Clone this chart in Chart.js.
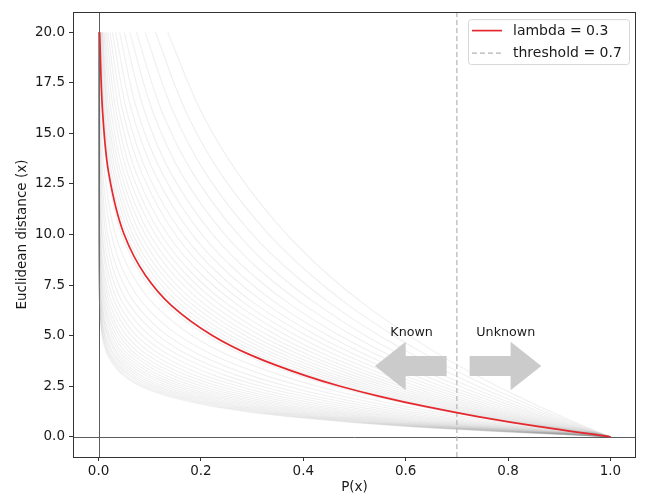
<!DOCTYPE html>
<html>
<head>
<meta charset="utf-8">
<script src="https://cdn.jsdelivr.net/npm/chart.js@4.4.0/dist/chart.umd.min.js"></script>
<style>
  body { margin: 0; background: #fff; }
  #chart { display: block; }
</style>
</head>
<body>
<canvas id="chart" width="645" height="499"></canvas>
<script>
// distances shared by every curve (y axis)
const distance = [20, 16, 13, 10, 8, 6.5, 5, 4, 3, 2.5, 2, 1.5, 1, 0.5, 0];

// highlighted curve, lambda = 0.3
const redLambda = 0.3;
const redCurve = [0.002, 0.008, 0.020, 0.050, 0.091, 0.142, 0.223, 0.301, 0.407, 0.472, 0.549, 0.638, 0.741, 0.861, 1];

// background family of curves (lambda 0.10 ... 1.00), P(x) at each distance
const grayCurves = [
  [0.135, 0.202, 0.273, 0.368, 0.449, 0.522, 0.607, 0.670, 0.741, 0.779, 0.819, 0.861, 0.905, 0.951, 1],
  [0.111, 0.172, 0.239, 0.333, 0.415, 0.489, 0.577, 0.644, 0.719, 0.760, 0.803, 0.848, 0.896, 0.946, 1],
  [0.091, 0.147, 0.210, 0.301, 0.383, 0.458, 0.549, 0.619, 0.698, 0.741, 0.787, 0.835, 0.887, 0.942, 1],
  [0.074, 0.125, 0.185, 0.273, 0.353, 0.430, 0.522, 0.595, 0.677, 0.723, 0.771, 0.823, 0.878, 0.937, 1],
  [0.061, 0.107, 0.162, 0.247, 0.326, 0.403, 0.497, 0.571, 0.657, 0.705, 0.756, 0.811, 0.869, 0.932, 1],
  [0.050, 0.091, 0.142, 0.223, 0.301, 0.377, 0.472, 0.549, 0.638, 0.687, 0.741, 0.799, 0.861, 0.928, 1],
  [0.041, 0.077, 0.125, 0.202, 0.278, 0.353, 0.449, 0.527, 0.619, 0.670, 0.726, 0.787, 0.852, 0.923, 1],
  [0.033, 0.066, 0.110, 0.183, 0.257, 0.331, 0.427, 0.507, 0.600, 0.654, 0.712, 0.775, 0.844, 0.919, 1],
  [0.027, 0.056, 0.096, 0.165, 0.237, 0.310, 0.407, 0.487, 0.583, 0.638, 0.698, 0.763, 0.835, 0.914, 1],
  [0.022, 0.048, 0.085, 0.150, 0.219, 0.291, 0.387, 0.468, 0.566, 0.622, 0.684, 0.752, 0.827, 0.909, 1],
  [0.018, 0.041, 0.074, 0.135, 0.202, 0.273, 0.368, 0.449, 0.549, 0.607, 0.670, 0.741, 0.819, 0.905, 1],
  [0.015, 0.035, 0.065, 0.122, 0.186, 0.255, 0.350, 0.432, 0.533, 0.592, 0.657, 0.730, 0.811, 0.900, 1],
  [0.012, 0.030, 0.057, 0.111, 0.172, 0.239, 0.333, 0.415, 0.517, 0.577, 0.644, 0.719, 0.803, 0.896, 1],
  [0.010, 0.025, 0.050, 0.100, 0.159, 0.224, 0.317, 0.399, 0.502, 0.563, 0.631, 0.708, 0.795, 0.891, 1],
  [0.008, 0.021, 0.044, 0.091, 0.147, 0.210, 0.301, 0.383, 0.487, 0.549, 0.619, 0.698, 0.787, 0.887, 1],
  [0.007, 0.018, 0.039, 0.082, 0.135, 0.197, 0.287, 0.368, 0.472, 0.535, 0.607, 0.687, 0.779, 0.882, 1],
  [0.006, 0.016, 0.034, 0.074, 0.125, 0.185, 0.273, 0.353, 0.458, 0.522, 0.595, 0.677, 0.771, 0.878, 1],
  [0.005, 0.013, 0.030, 0.067, 0.115, 0.173, 0.259, 0.340, 0.445, 0.509, 0.583, 0.667, 0.763, 0.874, 1],
  [0.004, 0.011, 0.026, 0.061, 0.107, 0.162, 0.247, 0.326, 0.432, 0.497, 0.571, 0.657, 0.756, 0.869, 1],
  [0.003, 0.010, 0.023, 0.055, 0.098, 0.152, 0.235, 0.314, 0.419, 0.484, 0.560, 0.647, 0.748, 0.865, 1],
  [0.002, 0.007, 0.018, 0.045, 0.084, 0.133, 0.212, 0.289, 0.395, 0.461, 0.538, 0.628, 0.733, 0.856, 1],
  [0.001, 0.004, 0.012, 0.033, 0.066, 0.110, 0.183, 0.257, 0.361, 0.427, 0.507, 0.600, 0.712, 0.844, 1],
  [0.001, 0.003, 0.008, 0.025, 0.052, 0.090, 0.157, 0.228, 0.330, 0.397, 0.477, 0.574, 0.691, 0.831, 1],
  [0.000, 0.002, 0.006, 0.018, 0.041, 0.074, 0.135, 0.202, 0.301, 0.368, 0.449, 0.549, 0.670, 0.819, 1],
  [0.000, 0.001, 0.004, 0.014, 0.032, 0.061, 0.117, 0.179, 0.275, 0.341, 0.423, 0.525, 0.651, 0.807, 1],
  [0.000, 0.001, 0.003, 0.010, 0.025, 0.050, 0.100, 0.159, 0.252, 0.317, 0.399, 0.502, 0.631, 0.795, 1],
  [0.000, 0.000, 0.002, 0.007, 0.020, 0.041, 0.086, 0.141, 0.230, 0.294, 0.375, 0.480, 0.613, 0.783, 1],
  [0.000, 0.000, 0.001, 0.006, 0.016, 0.034, 0.074, 0.125, 0.210, 0.273, 0.353, 0.458, 0.595, 0.771, 1],
  [0.000, 0.000, 0.001, 0.004, 0.012, 0.028, 0.064, 0.111, 0.192, 0.253, 0.333, 0.438, 0.577, 0.760, 1],
  [0.000, 0.000, 0.001, 0.003, 0.010, 0.023, 0.055, 0.098, 0.176, 0.235, 0.314, 0.419, 0.560, 0.748, 1],
  [0.000, 0.000, 0.000, 0.002, 0.008, 0.019, 0.047, 0.087, 0.160, 0.218, 0.295, 0.401, 0.543, 0.737, 1],
  [0.000, 0.000, 0.000, 0.002, 0.006, 0.016, 0.041, 0.077, 0.147, 0.202, 0.278, 0.383, 0.527, 0.726, 1],
  [0.000, 0.000, 0.000, 0.001, 0.005, 0.013, 0.035, 0.069, 0.134, 0.187, 0.262, 0.366, 0.512, 0.715, 1],
  [0.000, 0.000, 0.000, 0.001, 0.004, 0.011, 0.030, 0.061, 0.122, 0.174, 0.247, 0.350, 0.497, 0.705, 1],
  [0.000, 0.000, 0.000, 0.001, 0.003, 0.009, 0.026, 0.054, 0.112, 0.161, 0.232, 0.335, 0.482, 0.694, 1],
  [0.000, 0.000, 0.000, 0.001, 0.002, 0.007, 0.022, 0.048, 0.102, 0.150, 0.219, 0.320, 0.468, 0.684, 1],
  [0.000, 0.000, 0.000, 0.000, 0.002, 0.006, 0.019, 0.042, 0.094, 0.139, 0.206, 0.306, 0.454, 0.674, 1],
  [0.000, 0.000, 0.000, 0.000, 0.001, 0.005, 0.017, 0.038, 0.085, 0.129, 0.194, 0.292, 0.440, 0.664, 1],
  [0.000, 0.000, 0.000, 0.000, 0.001, 0.004, 0.014, 0.033, 0.078, 0.119, 0.183, 0.279, 0.427, 0.654, 1],
  [0.000, 0.000, 0.000, 0.000, 0.001, 0.003, 0.012, 0.030, 0.071, 0.111, 0.172, 0.267, 0.415, 0.644, 1],
  [0.000, 0.000, 0.000, 0.000, 0.001, 0.003, 0.011, 0.026, 0.065, 0.103, 0.162, 0.255, 0.403, 0.634, 1],
  [0.000, 0.000, 0.000, 0.000, 0.001, 0.002, 0.009, 0.023, 0.060, 0.095, 0.153, 0.244, 0.391, 0.625, 1],
  [0.000, 0.000, 0.000, 0.000, 0.000, 0.002, 0.008, 0.021, 0.054, 0.088, 0.144, 0.233, 0.379, 0.616, 1],
  [0.000, 0.000, 0.000, 0.000, 0.000, 0.002, 0.007, 0.018, 0.050, 0.082, 0.135, 0.223, 0.368, 0.607, 1]
];

const threshold = 0.7;
const xTicks = [0, 0.2, 0.4, 0.6, 0.8, 1.0];
const yTicks = [0, 2.5, 5, 7.5, 10, 12.5, 15, 17.5, 20];
const xRange = [-0.05, 1.05];
const yRange = [-1, 21];

// annotation arrows: label, start, length (data units)
const arrowLabels = ["Known", "Unknown"];
const arrowStart = [0.68, 0.725];
const arrowDx = [-0.08, 0.08];
const arrowY = 3.5;
const labelX = [0.57, 0.738];
const labelY = 5;

const FONT = "'DejaVu Sans', sans-serif";

const toPoints = curve => curve.map((p, i) => ({ x: p, y: distance[i] }));

const datasets = [
  {
    label: "lambda = " + redLambda,
    data: toPoints(redCurve),
    borderColor: "#e4282d",
    borderWidth: 1.7,
    order: 0
  },
  {
    label: "threshold = " + threshold,
    data: [{ x: threshold, y: yRange[0] }, { x: threshold, y: yRange[1] }],
    borderColor: "#b4b4b4",
    borderWidth: 1.2,
    borderDash: [5, 3],
    order: 1
  }
];
grayCurves.forEach(curve => {
  datasets.push({
    label: "",
    data: toPoints(curve),
    borderColor: "rgba(140,140,140,0.14)",
    borderWidth: 1.1,
    order: 2
  });
});

const frameAndLines = {
  id: "frameAndLines",
  beforeDatasetsDraw(chart) {
    const { ctx, chartArea: a, scales } = chart;
    const x0 = Math.round(scales.x.getPixelForValue(0)) + 0.5;
    const y0 = Math.round(scales.y.getPixelForValue(0)) + 0.5;
    ctx.save();
    ctx.strokeStyle = "#5c5c5c";
    ctx.lineWidth = 1;
    ctx.beginPath();
    ctx.moveTo(x0, a.top);
    ctx.lineTo(x0, a.bottom);
    ctx.moveTo(a.left, y0);
    ctx.lineTo(a.right, y0);
    ctx.stroke();
    ctx.restore();
  },
  afterDatasetsDraw(chart) {
    const { ctx, chartArea: a, scales } = chart;
    const sx = v => scales.x.getPixelForValue(v);
    const sy = v => scales.y.getPixelForValue(v);
    const w = 0.5, hw = 1.2, hl = 0.06;
    ctx.save();
    ctx.fillStyle = "#cbcbcb";
    arrowStart.forEach((s, i) => {
      const e = s + arrowDx[i];
      const tip = e + Math.sign(arrowDx[i]) * hl;
      ctx.beginPath();
      ctx.moveTo(sx(s), sy(arrowY + w));
      ctx.lineTo(sx(e), sy(arrowY + w));
      ctx.lineTo(sx(e), sy(arrowY + hw));
      ctx.lineTo(sx(tip), sy(arrowY));
      ctx.lineTo(sx(e), sy(arrowY - hw));
      ctx.lineTo(sx(e), sy(arrowY - w));
      ctx.lineTo(sx(s), sy(arrowY - w));
      ctx.closePath();
      ctx.fill();
    });
    ctx.fillStyle = "#1a1a1a";
    ctx.font = "12.7px " + FONT;
    ctx.textAlign = "left";
    ctx.textBaseline = "alphabetic";
    arrowLabels.forEach((t, i) => ctx.fillText(t, sx(labelX[i]), sy(labelY)));

    // frame
    ctx.strokeStyle = "#333";
    ctx.lineWidth = 1;
    ctx.strokeRect(Math.round(a.left) + 0.5, Math.round(a.top) + 0.5,
      Math.round(a.right - a.left) - 1, Math.round(a.bottom - a.top));

    // legend
    const bw = 161, bh = 45;
    const bx = a.right - 7 - bw, by = a.top + 7;
    ctx.beginPath();
    ctx.roundRect(bx + 0.5, by + 0.5, bw, bh, 3);
    ctx.fillStyle = "rgba(255,255,255,0.85)";
    ctx.fill();
    ctx.strokeStyle = "#d6d6d6";
    ctx.stroke();
    const rows = [datasets[0], datasets[1]];
    ctx.font = "14px " + FONT;
    ctx.textBaseline = "middle";
    rows.forEach((d, i) => {
      const ly = by + 11.5 + i * 22.5;
      ctx.strokeStyle = d.borderColor;
      ctx.lineWidth = d.borderWidth;
      ctx.setLineDash(d.borderDash || []);
      ctx.beginPath();
      ctx.moveTo(bx + 4, ly);
      ctx.lineTo(bx + 34, ly);
      ctx.stroke();
      ctx.setLineDash([]);
      ctx.fillStyle = "#1a1a1a";
      ctx.fillText(d.label, bx + 45, ly + 0.5);
    });
    ctx.restore();
  }
};

const tickStyle = {
  font: { family: FONT, size: 13.5 },
  color: "#1a1a1a",
  callback: v => Number(v).toFixed(1)
};

new Chart(document.getElementById("chart"), {
  type: "line",
  data: { datasets },
  options: {
    indexAxis: "y",
    responsive: false,
    animation: false,
    events: [],
    layout: { padding: { left: 0, top: 10, right: 9, bottom: 0 } },
    elements: {
      point: { radius: 0 },
      line: { cubicInterpolationMode: "monotone", fill: false }
    },
    plugins: { legend: { display: false }, tooltip: { enabled: false } },
    scales: {
      x: {
        type: "linear",
        min: xRange[0],
        max: xRange[1],
        afterBuildTicks: s => { s.ticks = xTicks.map(v => ({ value: v })); },
        afterFit: s => { s.height = 42; },
        grid: { drawOnChartArea: false, drawTicks: true, tickLength: 4, color: "#333" },
        border: { display: false },
        ticks: { ...tickStyle, padding: 2, maxRotation: 0 },
        title: { display: true, text: "P(x)", font: { family: FONT, size: 13.5 }, color: "#1a1a1a", padding: { top: 0, bottom: 3 } }
      },
      y: {
        type: "linear",
        min: yRange[0],
        max: yRange[1],
        afterBuildTicks: s => { s.ticks = yTicks.map(v => ({ value: v })); },
        afterFit: s => { s.width = 73; },
        grid: { drawOnChartArea: false, drawTicks: true, tickLength: 4, color: "#333" },
        border: { display: false },
        ticks: { ...tickStyle, padding: 4 },
        title: { display: true, text: "Euclidean distance (x)", font: { family: FONT, size: 13.5 }, color: "#1a1a1a", padding: { top: 14, bottom: 0 } }
      }
    }
  },
  plugins: [frameAndLines]
});
</script>
</body>
</html>
